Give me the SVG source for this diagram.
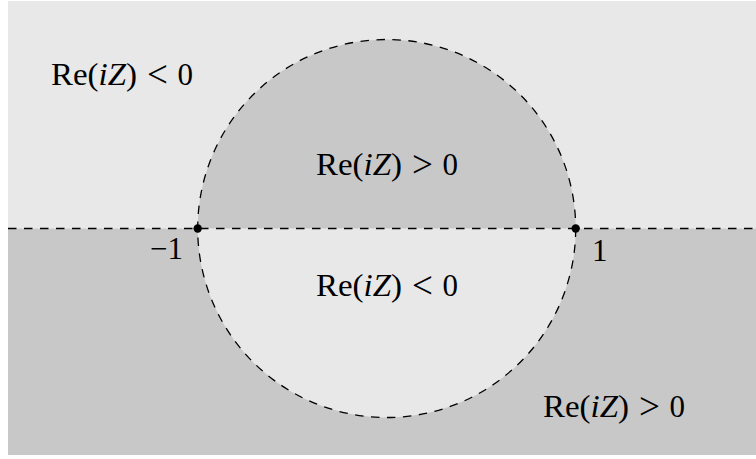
<svg xmlns="http://www.w3.org/2000/svg" width="756" height="459" viewBox="0 0 756 459">
<defs>
<style>
.light{fill:#e8e8e8}
.dark{fill:#c8c8c8}
.dash{fill:none;stroke:#000;stroke-width:1.3;stroke-dasharray:8.5 7.5}
.lbl{font-family:"Liberation Serif","DejaVu Serif",serif;font-size:31px;fill:#000}
.it{font-style:italic}
.rel{font-size:37px}
</style>
</defs>
<rect x="0" y="0" width="756" height="459" fill="#fff"/>
<g id="regions">
<rect class="light" x="8" y="1" width="748" height="227.5"/>
<rect class="dark" x="8" y="228.5" width="748" height="226.5"/>
<path class="dark" d="M197.7 228.5 A189 189 0 0 1 575.7 228.5 Z"/>
<path class="light" d="M197.7 228.5 A189 189 0 0 0 575.7 228.5 Z"/>
</g>
<g id="connectors">
<circle class="dash" cx="386.7" cy="228.5" r="189"/>
<line class="dash" x1="8" y1="228.5" x2="756" y2="228.5"/>
</g>
<g id="point-minus1">
<circle cx="197.7" cy="228.5" r="4.2" fill="#000"/>
<text class="lbl" x="183" y="259" text-anchor="end">−1</text>
</g>
<g id="point-1">
<circle cx="575.7" cy="228.5" r="4.2" fill="#000"/>
<text class="lbl" x="592" y="260.5">1</text>
</g>
<g id="label-top-left">
<text class="lbl" y="85"><tspan x="51" textLength="86" lengthAdjust="spacingAndGlyphs">Re(<tspan class="it">iZ</tspan>)</tspan><tspan class="rel" x="147" dy="2">&lt;</tspan><tspan x="177.5" dy="-2">0</tspan></text>
</g>
<g id="label-upper-inside">
<text class="lbl" y="175"><tspan x="316" textLength="86" lengthAdjust="spacingAndGlyphs">Re(<tspan class="it">iZ</tspan>)</tspan><tspan class="rel" x="412" dy="2">&gt;</tspan><tspan x="442.5" dy="-2">0</tspan></text>
</g>
<g id="label-lower-inside">
<text class="lbl" y="296"><tspan x="316" textLength="86" lengthAdjust="spacingAndGlyphs">Re(<tspan class="it">iZ</tspan>)</tspan><tspan class="rel" x="412" dy="2">&lt;</tspan><tspan x="442.5" dy="-2">0</tspan></text>
</g>
<g id="label-bottom-right">
<text class="lbl" y="417"><tspan x="543" textLength="86" lengthAdjust="spacingAndGlyphs">Re(<tspan class="it">iZ</tspan>)</tspan><tspan class="rel" x="639" dy="2">&gt;</tspan><tspan x="669.5" dy="-2">0</tspan></text>
</g>
</svg>
